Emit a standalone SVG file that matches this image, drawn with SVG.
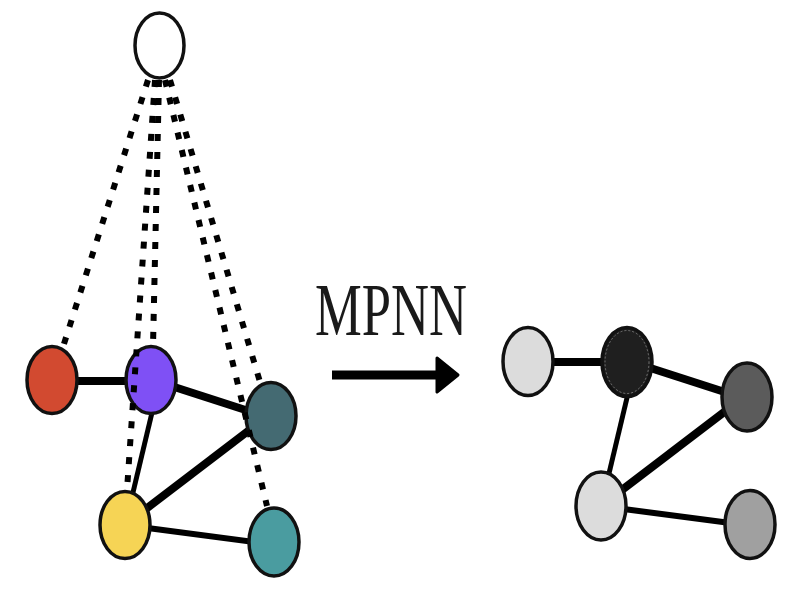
<svg xmlns="http://www.w3.org/2000/svg" width="800" height="600" viewBox="0 0 800 600">
  <style>
    .node { stroke: #111; stroke-width: 3.5; }
    .edge { stroke: #000; fill: none; stroke-linecap: butt; }
    .vedge { stroke: #000; stroke-width: 6; stroke-dasharray: 7 11; fill: none; }
    .label { font-family: "Liberation Serif", "Times New Roman", serif; font-size: 75px; fill: #1a1a1a; }
  </style>
  <rect width="800" height="600" fill="#fff"/>

  <!-- left graph solid edges -->
  <g id="edges-left">
    <line class="edge" x1="60" y1="381" x2="140" y2="381" stroke-width="8"/>
    <line class="edge" x1="165" y1="384" x2="258" y2="414" stroke-width="8"/>
    <line class="edge" x1="155" y1="400" x2="130" y2="505" stroke-width="5"/>
    <line class="edge" x1="138" y1="515" x2="260" y2="422" stroke-width="8"/>
    <line class="edge" x1="140" y1="527" x2="262" y2="543" stroke-width="6"/>
  </g>

  <!-- right graph solid edges -->
  <g id="edges-right">
    <line class="edge" x1="536" y1="362" x2="616" y2="362" stroke-width="8"/>
    <line class="edge" x1="641" y1="365" x2="734" y2="395" stroke-width="8"/>
    <line class="edge" x1="631" y1="381" x2="606" y2="486" stroke-width="5"/>
    <line class="edge" x1="614" y1="496" x2="736" y2="403" stroke-width="8"/>
    <line class="edge" x1="616" y1="508" x2="738" y2="524" stroke-width="6"/>
  </g>

  <g id="node-top"><ellipse class="node" cx="159.5" cy="45.5" rx="24.5" ry="32.5" fill="#fff"/></g>

  <g id="node-red"><ellipse class="node" cx="52" cy="380" rx="25" ry="33.5" fill="#D24A30"/></g>
  <g id="node-purple"><ellipse class="node" cx="151" cy="380" rx="25" ry="33.5" fill="#7F50F5"/></g>
  <g id="node-darkteal"><ellipse class="node" cx="271" cy="416" rx="25" ry="33.5" fill="#446A72"/></g>
  <g id="node-yellow"><ellipse class="node" cx="125" cy="525" rx="25" ry="33.5" fill="#F6D455"/></g>
  <g id="node-teal"><ellipse class="node" cx="274" cy="542" rx="25" ry="34" fill="#4A9CA0"/></g>

  <g id="node-r1"><ellipse class="node" cx="528" cy="361.5" rx="25" ry="34" fill="#DCDCDC"/></g>
  <g id="node-r2">
    <ellipse class="node" cx="627" cy="362" rx="25" ry="34.5" fill="#1F1F1F"/>
    <ellipse cx="627" cy="362" rx="22" ry="31.5" fill="none" stroke="#888" stroke-width="0.8" stroke-dasharray="2 2"/>
  </g>
  <g id="node-r3"><ellipse class="node" cx="747" cy="397" rx="25" ry="34" fill="#5B5B5B"/></g>
  <g id="node-r4"><ellipse class="node" cx="601" cy="506" rx="25" ry="34" fill="#DCDCDC"/></g>
  <g id="node-r5"><ellipse class="node" cx="750" cy="524.5" rx="25" ry="34" fill="#A0A0A0"/></g>

  <!-- dotted virtual-node connectors -->
  <g id="virtual-edges">
    <line class="vedge" x1="148" y1="80" x2="63" y2="347"/>
    <line class="vedge" x1="159" y1="80" x2="153" y2="346"/>
    <line class="vedge" x1="155" y1="80" x2="127" y2="490"/>
    <line class="vedge" x1="170" y1="80" x2="260" y2="382"/>
    <line class="vedge" x1="165" y1="80" x2="267" y2="506"/>
  </g>

  <g id="mpnn-arrow">
    <text class="label" x="315" y="335" textLength="152" lengthAdjust="spacingAndGlyphs">MPNN</text>
    <line x1="332" y1="375" x2="442" y2="375" stroke="#000" stroke-width="9"/>
    <polygon points="437,358 458,375 437,392" fill="#000" stroke="#000" stroke-width="3" stroke-linejoin="round"/>
  </g>
</svg>
